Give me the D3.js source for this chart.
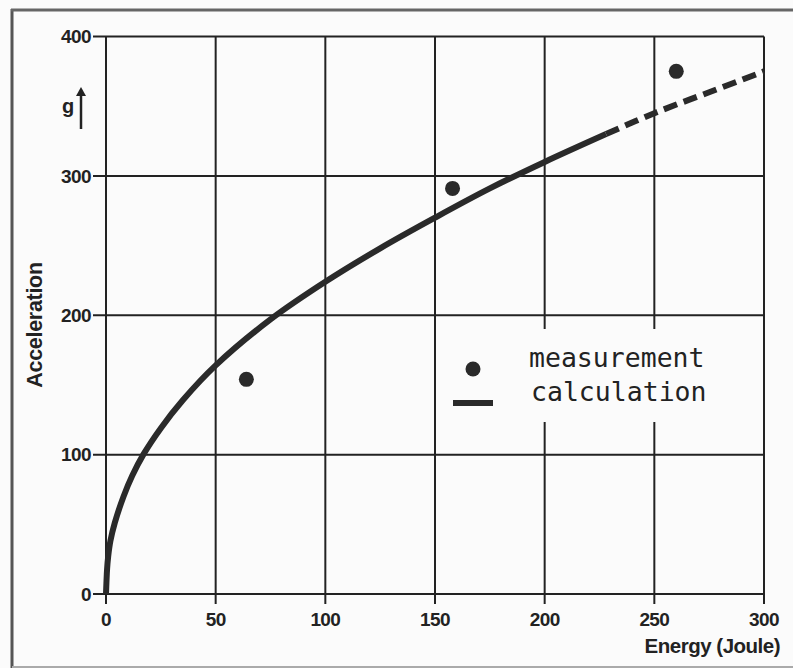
<!DOCTYPE html>
<html>
<head>
<meta charset="utf-8">
<script src="https://cdn.jsdelivr.net/npm/d3@7"></script>
<style>
  body { margin: 0; background: #fbfbfb; }
  svg { display: block; }
</style>
</head>
<body>
<div id="chart"></div>
<script>
// ticks
const xTicks = [0, 50, 100, 150, 200, 250, 300]
const yTicks = [0, 100, 200, 300, 400]

// calculation curve (energy J, acceleration g)
const calcSolid = [
  [0, 0], [0.5, 18], [1, 27], [2, 38], [4, 51], [8, 70], [12, 85], [17, 100],
  [25, 119], [35, 139], [50, 164], [75, 197], [100, 224], [125, 248],
  [150, 270], [175, 291], [200, 310], [228, 330]
]
const calcDashed = [[228, 330], [250, 345], [275, 360], [300, 375]]

// measurements
const measEnergy = [64, 158, 260]
const measAccel = [154, 291, 375]

const legendLabels = ['measurement', 'calculation']

let width = 793
let height = 668

let svg = d3
  .select('#chart')
  .append('svg')
  .attr('width', width)
  .attr('height', height)

let x = d3.scaleLinear().domain([0, 300]).range([106, 764])
let y = d3.scaleLinear().domain([0, 400]).range([594, 36.5])

// page frame (scan edges)
svg.append('line').attr('x1', 12).attr('x2', 12).attr('y1', 9).attr('y2', 668)
  .attr('stroke', '#555').attr('stroke-width', 3)
svg.append('line').attr('x1', 11).attr('x2', 793).attr('y1', 10).attr('y2', 10)
  .attr('stroke', '#666').attr('stroke-width', 3)
svg.append('line').attr('x1', 12).attr('x2', 793).attr('y1', 667).attr('y2', 667)
  .attr('stroke', '#aaa').attr('stroke-width', 2)

// grid
let grid = svg.append('g').attr('stroke', '#222').attr('stroke-width', 2)
grid.selectAll('.vgrid')
  .data(xTicks)
  .enter()
  .append('line')
  .attr('x1', d => x(d)).attr('x2', d => x(d))
  .attr('y1', y(400)).attr('y2', y(0) + 10)
grid.selectAll('.hgrid')
  .data(yTicks)
  .enter()
  .append('line')
  .attr('x1', x(0) - 13).attr('x2', x(300))
  .attr('y1', d => y(d)).attr('y2', d => y(d))

// legend area breaks the grid
svg.append('rect')
  .attr('x', 442).attr('y', 329)
  .attr('width', 300).attr('height', 93)
  .attr('fill', '#fbfbfb')

let tickFont = 'Liberation Sans, Arial, sans-serif'

// tick labels
svg.append('g')
  .selectAll('text')
  .data(yTicks)
  .enter()
  .append('text')
  .text(d => d)
  .attr('x', 91)
  .attr('y', d => y(d))
  .attr('dy', '0.36em')
  .attr('text-anchor', 'end')
  .attr('font-family', tickFont)
  .attr('font-weight', 'bold')
  .attr('font-size', 19)
  .attr('letter-spacing', -0.6)
  .attr('fill', '#222')

svg.append('g')
  .selectAll('text')
  .data(xTicks)
  .enter()
  .append('text')
  .text(d => d)
  .attr('x', d => x(d))
  .attr('y', 626)
  .attr('text-anchor', 'middle')
  .attr('font-family', tickFont)
  .attr('font-weight', 'bold')
  .attr('font-size', 19)
  .attr('letter-spacing', -0.6)
  .attr('fill', '#222')

// axis titles
svg.append('text')
  .text('Acceleration')
  .attr('transform', 'translate(42,325) rotate(-90)')
  .attr('text-anchor', 'middle')
  .attr('font-family', tickFont)
  .attr('font-weight', 'bold')
  .attr('font-size', 21.5)
  .attr('letter-spacing', -0.3)
  .attr('fill', '#222')

svg.append('text')
  .text('Energy (Joule)')
  .attr('x', 780)
  .attr('y', 653)
  .attr('text-anchor', 'end')
  .attr('font-family', tickFont)
  .attr('font-weight', 'bold')
  .attr('font-size', 20.5)
  .attr('letter-spacing', -0.5)
  .attr('fill', '#222')

// g with up arrow
svg.append('text')
  .text('g')
  .attr('x', 68)
  .attr('y', 113)
  .attr('text-anchor', 'middle')
  .attr('font-family', tickFont)
  .attr('font-weight', 'bold')
  .attr('font-size', 20)
  .attr('fill', '#222')
svg.append('line')
  .attr('x1', 81).attr('x2', 81).attr('y1', 129).attr('y2', 94)
  .attr('stroke', '#222').attr('stroke-width', 2.5)
svg.append('path')
  .attr('d', 'M76,96 L81,87 L86,96 Z')
  .attr('fill', '#222')

// calculation line
let line = d3.line()
  .x(d => x(d[0]))
  .y(d => y(d[1]))
  .curve(d3.curveCatmullRom.alpha(0.5))

svg.append('path')
  .datum(calcSolid)
  .attr('d', line)
  .attr('fill', 'none')
  .attr('stroke', '#2a2a2a')
  .attr('stroke-width', 6)

svg.append('path')
  .datum(calcDashed)
  .attr('d', line)
  .attr('fill', 'none')
  .attr('stroke', '#2a2a2a')
  .attr('stroke-width', 6)
  .attr('stroke-dasharray', '14,7')

// measurement dots
svg.selectAll('.meas')
  .data(measEnergy)
  .enter()
  .append('circle')
  .attr('class', 'meas')
  .attr('cx', d => x(d))
  .attr('cy', (d, i) => y(measAccel[i]))
  .attr('r', 7.5)
  .attr('fill', '#2a2a2a')

// legend
svg.append('circle')
  .attr('cx', 473).attr('cy', 369).attr('r', 7.5)
  .attr('fill', '#2a2a2a')
svg.append('line')
  .attr('x1', 453).attr('x2', 493).attr('y1', 403).attr('y2', 403)
  .attr('stroke', '#2a2a2a').attr('stroke-width', 6)

svg.selectAll('.legend-label')
  .data(legendLabels)
  .enter()
  .append('text')
  .attr('class', 'legend-label')
  .text(d => d)
  .attr('x', (d, i) => i === 0 ? 529 : 531)
  .attr('y', (d, i) => 367 + i * 34)
  .attr('font-family', 'DejaVu Sans Mono, monospace')
  .attr('font-size', 26.5)
  .attr('fill', '#222')
</script>
</body>
</html>
